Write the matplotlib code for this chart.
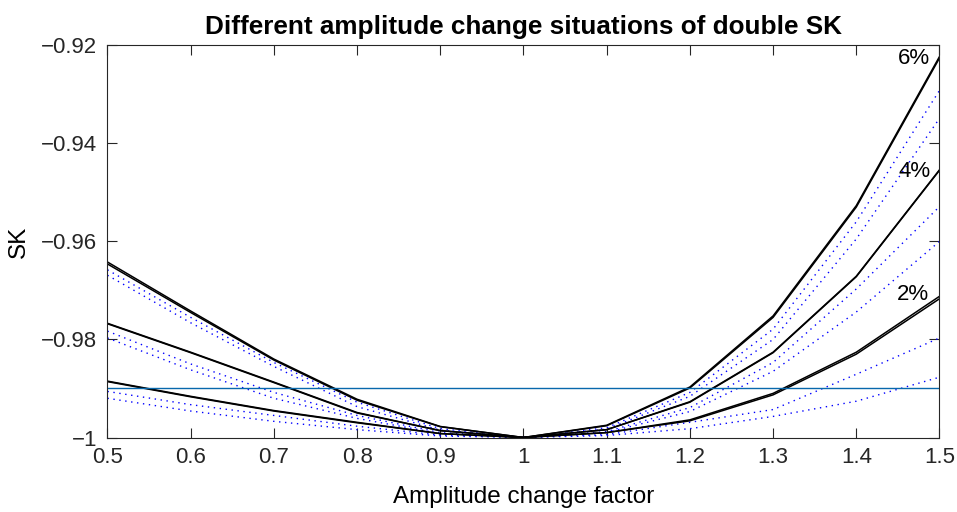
import matplotlib
matplotlib.use('Agg')
import matplotlib.pyplot as plt

plt.rcParams['font.family'] = ['Liberation Sans', 'DejaVu Sans']
plt.rcParams['axes.unicode_minus'] = True

# factor de cambio de amplitud
factor = [0.5, 0.6, 0.7, 0.8, 0.9, 1.0, 1.1, 1.2, 1.3, 1.4, 1.5]

# curvas negras (dos casi superpuestas por grupo)
sk_6a = [-0.9642, -0.9742, -0.9840, -0.9922, -0.99775, -1.0, -0.9975, -0.9897, -0.9752, -0.9527, -0.9223]
sk_6b = [-0.9646, -0.9745, -0.9842, -0.9924, -0.9978, -1.0, -0.9976, -0.9899, -0.9755, -0.9530, -0.9226]
sk_4a = [-0.9767, -0.9826, -0.9887, -0.9949, -0.9986, -1.0, -0.9984, -0.9927, -0.9826, -0.9671, -0.9454]
sk_4b = [-0.9768, -0.9827, -0.9888, -0.9950, -0.9986, -1.0, -0.9984, -0.9928, -0.9827, -0.9672, -0.9455]
sk_2a = [-0.9885, -0.9916, -0.9945, -0.9969, -0.9992, -1.0, -0.9990, -0.9964, -0.9910, -0.9826, -0.9712]
sk_2b = [-0.9886, -0.9917, -0.9946, -0.9970, -0.9992, -1.0, -0.9990, -0.9966, -0.9913, -0.9830, -0.9717]

# curvas punteadas azules
dot_6a = [-0.9658, -0.9755, -0.9847, -0.9928, -0.9982, -1.0, -0.9980, -0.9908, -0.9779, -0.9560, -0.9292]
dot_6b = [-0.9669, -0.9766, -0.9855, -0.9937, -0.9985, -1.0, -0.9983, -0.9916, -0.9800, -0.9595, -0.9349]
dot_4a = [-0.9783, -0.9850, -0.9908, -0.9955, -0.9990, -1.0, -0.9988, -0.9939, -0.9847, -0.9697, -0.9529]
dot_4b = [-0.9797, -0.9862, -0.9920, -0.9961, -0.9992, -1.0, -0.9990, -0.9947, -0.9865, -0.9744, -0.9600]
dot_2a = [-0.9906, -0.9933, -0.9955, -0.9977, -0.9995, -1.0, -0.9994, -0.9969, -0.9943, -0.9871, -0.9797]
dot_2b = [-0.9920, -0.9946, -0.9967, -0.9984, -0.9997, -1.0, -0.9996, -0.9982, -0.9957, -0.9926, -0.9877]

umbral = -0.99

fig = plt.figure(figsize=(9.57, 5.12), dpi=100)
ax = fig.add_axes([0.1123, 0.1455, 0.8694, 0.766])

for s in [dot_6a, dot_6b, dot_4a, dot_4b, dot_2a, dot_2b]:
    ax.plot(factor, s, linestyle=(0, (1, 3.3)), color='#0000ff', linewidth=1.0)
for s in [sk_6a, sk_6b, sk_4a, sk_4b, sk_2a, sk_2b]:
    ax.plot(factor, s, color='black', linewidth=1.1)

ax.axhline(umbral, color='#0868ac', linewidth=1.0)

# etiquetas de porcentaje
ax.text(1.489, -0.9239, '6%', ha='right', va='baseline', fontsize=16)
ax.text(1.489, -0.9469, '4%', ha='right', va='baseline', fontsize=16)
ax.text(1.487, -0.9720, '2%', ha='right', va='baseline', fontsize=16)

ax.set_xlim(0.5, 1.5)
ax.set_ylim(-1.0, -0.92)
ax.set_xticks(factor)
ax.set_xticklabels(['0.5', '0.6', '0.7', '0.8', '0.9', '1', '1.1', '1.2', '1.3', '1.4', '1.5'])
ax.set_yticks([-1.0, -0.98, -0.96, -0.94, -0.92])
ax.set_yticklabels(['\u22121', '\u22120.98', '\u22120.96', '\u22120.94', '\u22120.92'])
ax.tick_params(direction='in', top=True, right=True, labelsize=16, length=7, colors='#262626')
ax.tick_params(axis='x', pad=7)
ax.tick_params(axis='y', pad=7.5)
for sp in ax.spines.values():
    sp.set_color('#262626')
    sp.set_linewidth(0.8)

ax.set_title('Different amplitude change situations of double SK', fontsize=18.8, fontweight='bold', pad=8.5)
ax.set_xlabel('Amplitude change factor', fontsize=17.5, labelpad=13)
ax.set_ylabel('SK', fontsize=17.5, labelpad=8)

fig.savefig('out.png', dpi=100)
